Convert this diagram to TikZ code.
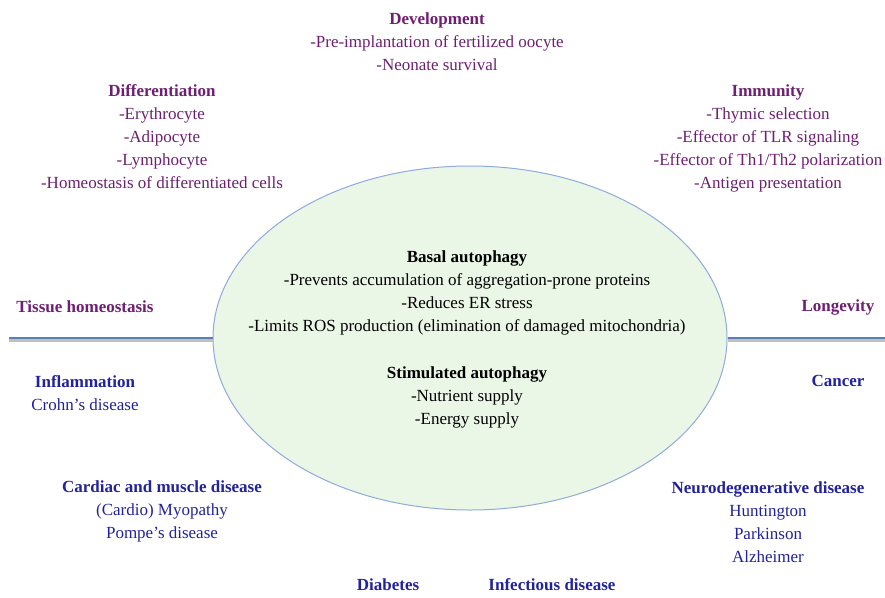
\documentclass[tikz,border=0pt]{standalone}
\usepackage{fontspec}
\setmainfont{Liberation Serif}
\usetikzlibrary{shapes.geometric}
\definecolor{rolepurple}{HTML}{6E1F72}
\definecolor{diseaseblue}{HTML}{22229C}
\definecolor{hubfill}{HTML}{EAF6E6}
\definecolor{hubline}{HTML}{8FAADC}
\definecolor{axisblue}{HTML}{5A7FB5}
\tikzset{
  role/.style={align=center, text=rolepurple, font=\fontsize{17}{23}\selectfont},
  disease/.style={align=center, text=diseaseblue, font=\fontsize{17}{23}\selectfont},
  inner/.style={align=center, text=black, font=\fontsize{17}{23}\selectfont},
  axis/.style={axisblue, line width=2.5pt},
  axisshadow/.style={black!25, line width=2.5pt}
}
\begin{document}
\begin{tikzpicture}[x=1pt, y=-1pt]
        \useasboundingbox (0,0) rectangle (885,597);
        % the autophagy ellipse
        \node[ellipse, draw=hubline, fill=hubfill, line width=1pt,
              minimum width=514pt, minimum height=344pt] (hub) at (470,338) {};

        % the horizontal axis
        \coordinate (axisL) at (9,338);
        \coordinate (axisR) at (885,338);
        \draw[axisshadow] ([yshift=-2.5pt]axisL) -- ([yshift=-2.5pt]hub.west);
        \draw[axisshadow] ([yshift=-2.5pt]hub.east) -- ([yshift=-2.5pt]axisR);
        \draw[axis] (axisL) -- (hub.west);
        \draw[axis] (hub.east) -- (axisR);

        % text inside the ellipse
        \node[inner] (basal) at (467,293) {\textbf{Basal autophagy}\\-Prevents accumulation of aggregation-prone proteins\\-Reduces ER stress\\-Limits ROS production (elimination of damaged mitochondria)};
        \node[inner] (stim) at (467,397) {\textbf{Stimulated autophagy}\\-Nutrient supply\\-Energy supply};

        % physiological roles (above the axis)
        \node[role] (devel) at (437,42) {\textbf{Development}\\-Pre-implantation of fertilized oocyte\\-Neonate survival};
        \node[role] (differ) at (162,137) {\textbf{Differentiation}\\-Erythrocyte\\-Adipocyte\\-Lymphocyte\\-Homeostasis of differentiated cells};
        \node[role] (immun) at (768,138) {\textbf{Immunity}\\-Thymic selection\\-Effector of TLR signaling\\-Effector of Th1/Th2 polarization\\-Antigen presentation};
        \node[role] (tissue) at (85,307) {\textbf{Tissue homeostasis}};
        \node[role] (longev) at (838,307) {\textbf{Longevity}};

        % diseases (below the axis)
        \node[disease] (inflam) at (85,393) {\textbf{Inflammation}\\Crohn's disease};
        \node[disease] (cancer) at (838,381) {\textbf{Cancer}};
        \node[disease] (cardiac) at (162,511) {\textbf{Cardiac and muscle disease}\\(Cardio) Myopathy\\Pompe's disease};
        \node[disease] (neuro) at (768,522) {\textbf{Neurodegenerative disease}\\Huntington\\Parkinson\\Alzheimer};
        \node[disease] (diabet) at (388,585) {\textbf{Diabetes}};
        \node[disease] (infect) at (552,585) {\textbf{Infectious disease}};
    \end{tikzpicture}
\end{document}
